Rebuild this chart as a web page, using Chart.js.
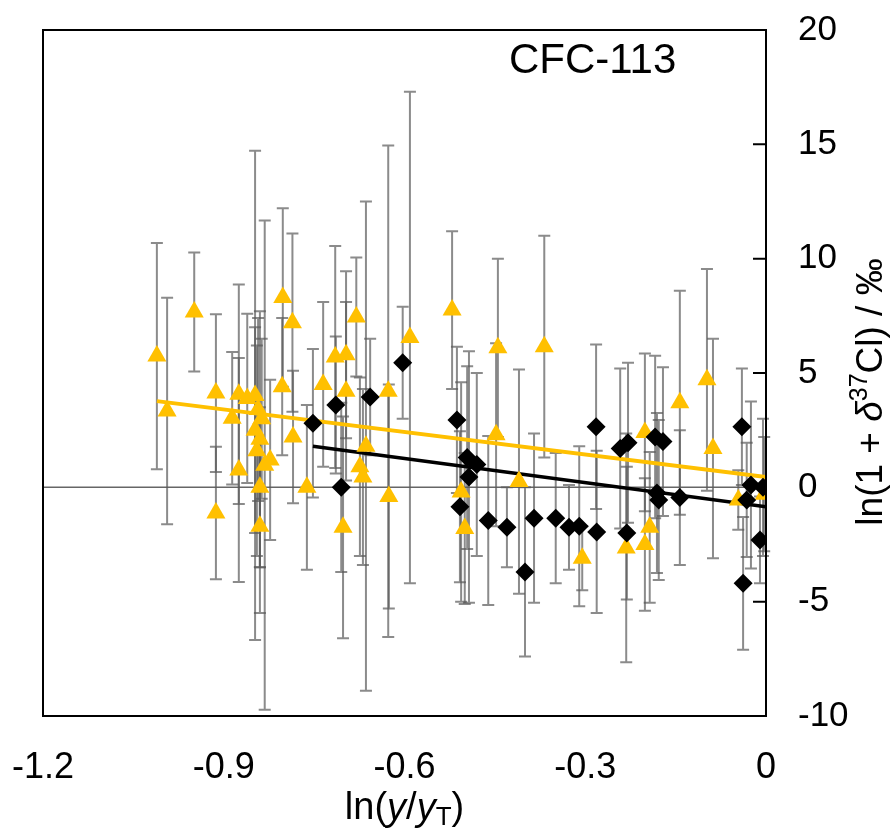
<!DOCTYPE html>
<html>
<head>
<meta charset="utf-8">
<script src="https://cdn.jsdelivr.net/npm/chart.js@4.4.1/dist/chart.umd.min.js"></script>
<style>
  html, body { margin: 0; padding: 0; background: #fff; }
  #wrap { width: 894px; height: 835px; }
</style>
</head>
<body>
<div id="wrap"><canvas id="chart"></canvas></div>
<script>
// ticks
const xTicks = [-1.2, -0.9, -0.6, -0.3, 0];
const yTicks = [-10, -5, 0, 5, 10, 15, 20];

// orange triangles: x, y, +/- error
const triX = [-1.011, -0.994, -0.949, -0.913, -0.913, -0.886, -0.875, -0.875, -0.861, -0.848,
    -0.843, -0.837, -0.848, -0.840, -0.845, -0.823, -0.832, -0.840, -0.840, -0.803,
    -0.802, -0.786, -0.785, -0.762, -0.735, -0.715, -0.697, -0.697, -0.702, -0.680,
    -0.664, -0.674, -0.669, -0.627, -0.626, -0.591, -0.521, -0.506, -0.500, -0.448,
    -0.445, -0.410, -0.368, -0.305, -0.232, -0.201, -0.201, -0.193, -0.143, -0.098,
    -0.088, -0.046, -0.003];
const triY = [5.74, 3.34, 7.67, 4.12, -1.12, 3.02, 4.07, 0.76, 3.89, 4.02,
    3.4, 3.0, 2.5, 2.1, 1.6, 1.2, 0.97, 0.0, -1.7, 4.4,
    8.3, 7.2, 2.2, 0.0, 4.5, 5.7, 5.8, 4.2, -1.75, 7.45,
    1.8, 0.9, 0.45, 4.2, -0.4, 6.55, 7.75, -0.2, -1.8, 2.3,
    6.1, 0.25, 6.15, -3.1, -2.65, 2.4, -2.5, -1.75, 3.7, 4.7,
    1.7, -0.55, -0.3];
const triErr = [4.95, 4.95, 2.6, 3.45, 2.9, 2.9, 4.8, 4.9, 3.7, 10.7,
    4.0, 3.5, 4.5, 5.6, 4.6, 3.5, 10.7, 3.5, 3.8, 3.0,
    3.9, 3.9, 2.9, 3.6, 3.6, 4.85, 3.65, 3.9, 4.85, 2.6,
    10.7, 3.9, 3.85, 10.75, 4.9, 10.75, 3.45, 4.8, 3.3, 4.0,
    3.9, 4.9, 4.85, 1.4, 5.0, 3.45, 2.9, 3.3, 4.9, 4.85,
    4.8, 1.3, 2.5];

// black diamonds: x, y, +/- error
const diaX = [-0.752, -0.714, -0.705, -0.657, -0.603, -0.513, -0.496, -0.480, -0.493, -0.508,
    -0.461, -0.430, -0.400, -0.385, -0.349, -0.327, -0.310, -0.281, -0.282, -0.231,
    -0.242, -0.229, -0.184, -0.171, -0.181, -0.178, -0.143, -0.040, -0.038, -0.025,
    -0.032, -0.005, -0.010];
const diaY = [2.8, 3.6, 0.0, 3.95, 5.45, 2.95, 1.3, 1.0, 0.45, -0.85,
    -1.45, -1.75, -3.7, -1.35, -1.35, -1.75, -1.7, -1.95, 2.65, -2.0,
    1.7, 1.95, 2.2, 2.0, -0.25, -0.55, -0.45, 2.65, -4.2, 0.1,
    -0.55, 0.0, -2.3];
const diaErr = [3.25, 3.0, 3.7, 2.55, 2.45, 3.2, 4.0, 4.0, 5.5, 3.3,
    3.7, 1.75, 3.7, 3.7, 2.85, 1.85, 3.5, 3.55, 3.6, 2.9,
    3.5, 3.5, 3.55, 3.25, 3.5, 3.5, 2.95, 2.55, 2.9, 3.65,
    2.5, 3.0, 1.9];

// fitted lines
const fitOrangeX = [-1.011, 0];
const fitOrangeY = [3.77, 0.45];
const fitBlackX = [-0.752, 0];
const fitBlackY = [1.8, -0.85];

const ORANGE = '#FFC000';
const FONT = "'Liberation Sans', Arial, sans-serif";

const toPts = (xs, ys) => xs.map((x, i) => ({ x: x, y: ys[i] }));

// no extra room for overflowing tick labels, the frame is placed by layout padding
const noOverflow = s => {
    s.paddingLeft = 0;
    s.paddingRight = 0;
    s.paddingTop = 0;
    s.paddingBottom = 0;
};

// error bars, zero line, frame and inner ticks
const decorPlugin = {
    id: 'decor',
    beforeDatasetsDraw(chart) {
        const { ctx, chartArea: a, scales: { x, y } } = chart;
        ctx.save();
        // zero line
        ctx.strokeStyle = '#666';
        ctx.lineWidth = 1.5;
        ctx.beginPath();
        ctx.moveTo(a.left, y.getPixelForValue(0));
        ctx.lineTo(a.right, y.getPixelForValue(0));
        ctx.stroke();

        ctx.strokeStyle = 'rgba(90,90,90,0.7)';
        ctx.lineWidth = 2;
        chart.data.datasets.forEach(ds => {
            if (!ds.errors) return;
            ds.data.forEach((p, i) => {
                const px = x.getPixelForValue(p.x);
                const top = y.getPixelForValue(p.y + ds.errors[i]);
                const bot = y.getPixelForValue(p.y - ds.errors[i]);
                ctx.beginPath();
                ctx.moveTo(px, top);
                ctx.lineTo(px, bot);
                ctx.moveTo(px - 6, top);
                ctx.lineTo(px + 6, top);
                ctx.moveTo(px - 6, bot);
                ctx.lineTo(px + 6, bot);
                ctx.stroke();
            });
        });
        ctx.restore();
    },
    afterDraw(chart) {
        const { ctx, chartArea: a, scales: { y } } = chart;
        ctx.save();
        ctx.strokeStyle = '#000';
        ctx.lineWidth = 2;
        ctx.strokeRect(a.left, a.top, a.right - a.left, a.bottom - a.top);
        ctx.beginPath();
        yTicks.forEach(v => {
            const py = y.getPixelForValue(v);
            ctx.moveTo(a.right - 13, py);
            ctx.lineTo(a.right, py);
        });
        ctx.stroke();

        // label inside plot
        ctx.fillStyle = '#000';
        ctx.font = `42px ${FONT}`;
        ctx.textBaseline = 'middle';
        ctx.textAlign = 'left';
        ctx.fillText('CFC-113', 509, 61);

        // x title: ln(y/yT)
        const parts = [
            ['ln(', 'normal', 0, 38],
            ['y', 'italic', 0, 38],
            ['/', 'normal', 0, 38],
            ['y', 'italic', 0, 38],
            ['T', 'normal', 9, 26],
            [')', 'normal', 0, 38]
        ];
        drawRich(ctx, parts, (a.left + a.right) / 2, 809, FONT);

        // y title, rotated
        ctx.translate(872, 392);
        ctx.rotate(-Math.PI / 2);
        const yParts = [
            ['ln(1 + ', 'normal', 0, 37],
            ['δ', 'italic', 0, 37],
            ['37', 'normal', -12, 25],
            ['Cl) / ‰', 'normal', 0, 37]
        ];
        drawRich(ctx, yParts, 0, 0, FONT);
        ctx.restore();
    }
};

function drawRich(ctx, parts, cx, cy, family) {
    let w = 0;
    parts.forEach(p => {
        ctx.font = `${p[1]} ${p[3]}px ${family}`;
        w += ctx.measureText(p[0]).width;
    });
    let px = cx - w / 2;
    ctx.textAlign = 'left';
    ctx.textBaseline = 'middle';
    parts.forEach(p => {
        ctx.font = `${p[1]} ${p[3]}px ${family}`;
        ctx.fillText(p[0], px, cy + p[2]);
        px += ctx.measureText(p[0]).width;
    });
}

new Chart(document.getElementById('chart'), {
    type: 'scatter',
    data: {
        datasets: [
            {
                label: 'diamonds',
                data: toPts(diaX, diaY),
                errors: diaErr,
                pointStyle: 'rectRot',
                pointRadius: 9.5,
                backgroundColor: '#000',
                borderColor: '#000',
                borderWidth: 0,
                order: 0
            },
            {
                label: 'triangles',
                data: toPts(triX, triY),
                errors: triErr,
                pointStyle: 'triangle',
                pointRadius: 11,
                backgroundColor: ORANGE,
                borderColor: ORANGE,
                borderWidth: 0,
                order: 1
            },
            {
                type: 'line',
                label: 'fit orange',
                data: toPts(fitOrangeX, fitOrangeY),
                borderColor: ORANGE,
                borderWidth: 4,
                pointRadius: 0,
                fill: false,
                order: 2
            },
            {
                type: 'line',
                label: 'fit black',
                data: toPts(fitBlackX, fitBlackY),
                borderColor: '#000',
                borderWidth: 3.5,
                pointRadius: 0,
                fill: false,
                order: 3
            }
        ]
    },
    options: {
        responsive: true,
        maintainAspectRatio: false,
        animation: false,
        layout: { padding: { left: 43, top: 30, right: 0, bottom: 0 } },
        plugins: {
            legend: { display: false },
            tooltip: { enabled: false }
        },
        scales: {
            x: {
                type: 'linear',
                min: -1.2,
                max: 0,
                afterFit: s => { s.height = 119; noOverflow(s); },
                afterBuildTicks: s => { s.ticks = xTicks.map(v => ({ value: v })); },
                grid: { display: false, drawTicks: false },
                border: { display: false },
                ticks: {
                    padding: 30,
                    color: '#000',
                    font: { family: FONT, size: 36 },
                    callback: v => String(v)
                }
            },
            y: {
                type: 'linear',
                position: 'right',
                min: -10,
                max: 20,
                afterFit: s => { s.width = 128; noOverflow(s); },
                afterBuildTicks: s => { s.ticks = yTicks.map(v => ({ value: v })); },
                grid: { display: false, drawTicks: false },
                border: { display: false },
                ticks: {
                    padding: 32,
                    color: '#000',
                    font: { family: FONT, size: 35 },
                    callback: v => String(v)
                }
            }
        }
    },
    plugins: [decorPlugin]
});
</script>
</body>
</html>
